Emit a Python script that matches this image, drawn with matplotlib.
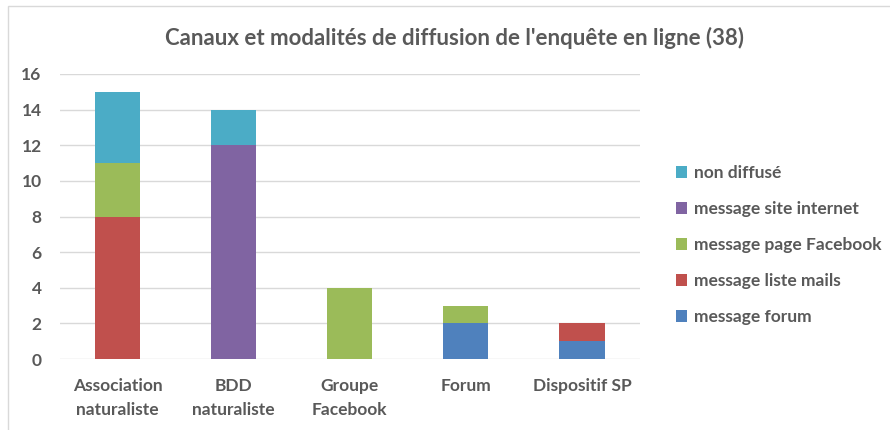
import matplotlib.pyplot as plt
import numpy as np
from matplotlib.patches import Rectangle

categories = ["Association\nnaturaliste", "BDD\nnaturaliste", "Groupe\nFacebook", "Forum", "Dispositif SP"]
series_names = ["message forum", "message liste mails", "message page Facebook",
                "message site internet", "non diffusé"]
msg_forum = [0, 0, 0, 2, 1]
msg_mails = [8, 0, 0, 0, 1]
msg_facebook = [3, 0, 4, 1, 0]
msg_site = [0, 12, 0, 0, 0]
non_diffuse = [4, 2, 0, 0, 0]
colors = ["#4F81BD", "#C0504D", "#9BBB59", "#8064A2", "#4BACC6"]

plt.rcParams['font.family'] = ['Lato', 'DejaVu Sans']
text_col = "#595959"

fig = plt.figure(figsize=(8.9, 4.3), dpi=100)
ax = fig.add_axes([0.067, 0.165, 0.652, 0.663])

# chart border
fig.patches.append(Rectangle((8 / 890, -0.1), 1.2, 1 - 6 / 430 + 0.1, transform=fig.transFigure,
                             fill=False, edgecolor="#D9D9D9", linewidth=1))

x = np.arange(len(categories))
bottom = np.zeros(len(categories))
handles = []
for name, vals, c in zip(series_names, [msg_forum, msg_mails, msg_facebook, msg_site, non_diffuse], colors):
    b = ax.bar(x, vals, 0.39, bottom=bottom, color=c, label=name, zorder=3)
    handles.append(b)
    bottom += np.array(vals)

ax.set_xlim(-0.5, len(categories) - 0.5)
ax.set_ylim(0, 16)
ax.set_yticks(range(0, 17, 2))
ax.yaxis.grid(True, color="#D9D9D9", linewidth=1, zorder=0)
for s in ax.spines.values():
    s.set_visible(False)
ax.tick_params(length=0)
ax.tick_params(axis='y', pad=13)
ax.tick_params(axis='x', pad=14)
ax.set_xticks(x)
ax.set_xticklabels(categories, fontsize=12.5, fontweight='bold', color=text_col, linespacing=1.55)
for t in ax.get_yticklabels():
    t.set_fontsize(12.5)
    t.set_fontweight('bold')
    t.set_color(text_col)

fig.text(0.511, 0.912, "Canaux et modalités de diffusion de l'enquête en ligne (38)",
         ha='center', va='center', fontsize=16, fontweight='bold', color=text_col)

leg = ax.legend(handles[::-1], series_names[::-1], loc='center left', bbox_to_anchor=(1.035, 0.40),
                frameon=False, handlelength=0.65, handleheight=0.65, handletextpad=0.4,
                labelspacing=1.15, prop={'size': 12.5, 'weight': 'bold'})
for t in leg.get_texts():
    t.set_color(text_col)

fig.savefig("out.png", dpi=100)
